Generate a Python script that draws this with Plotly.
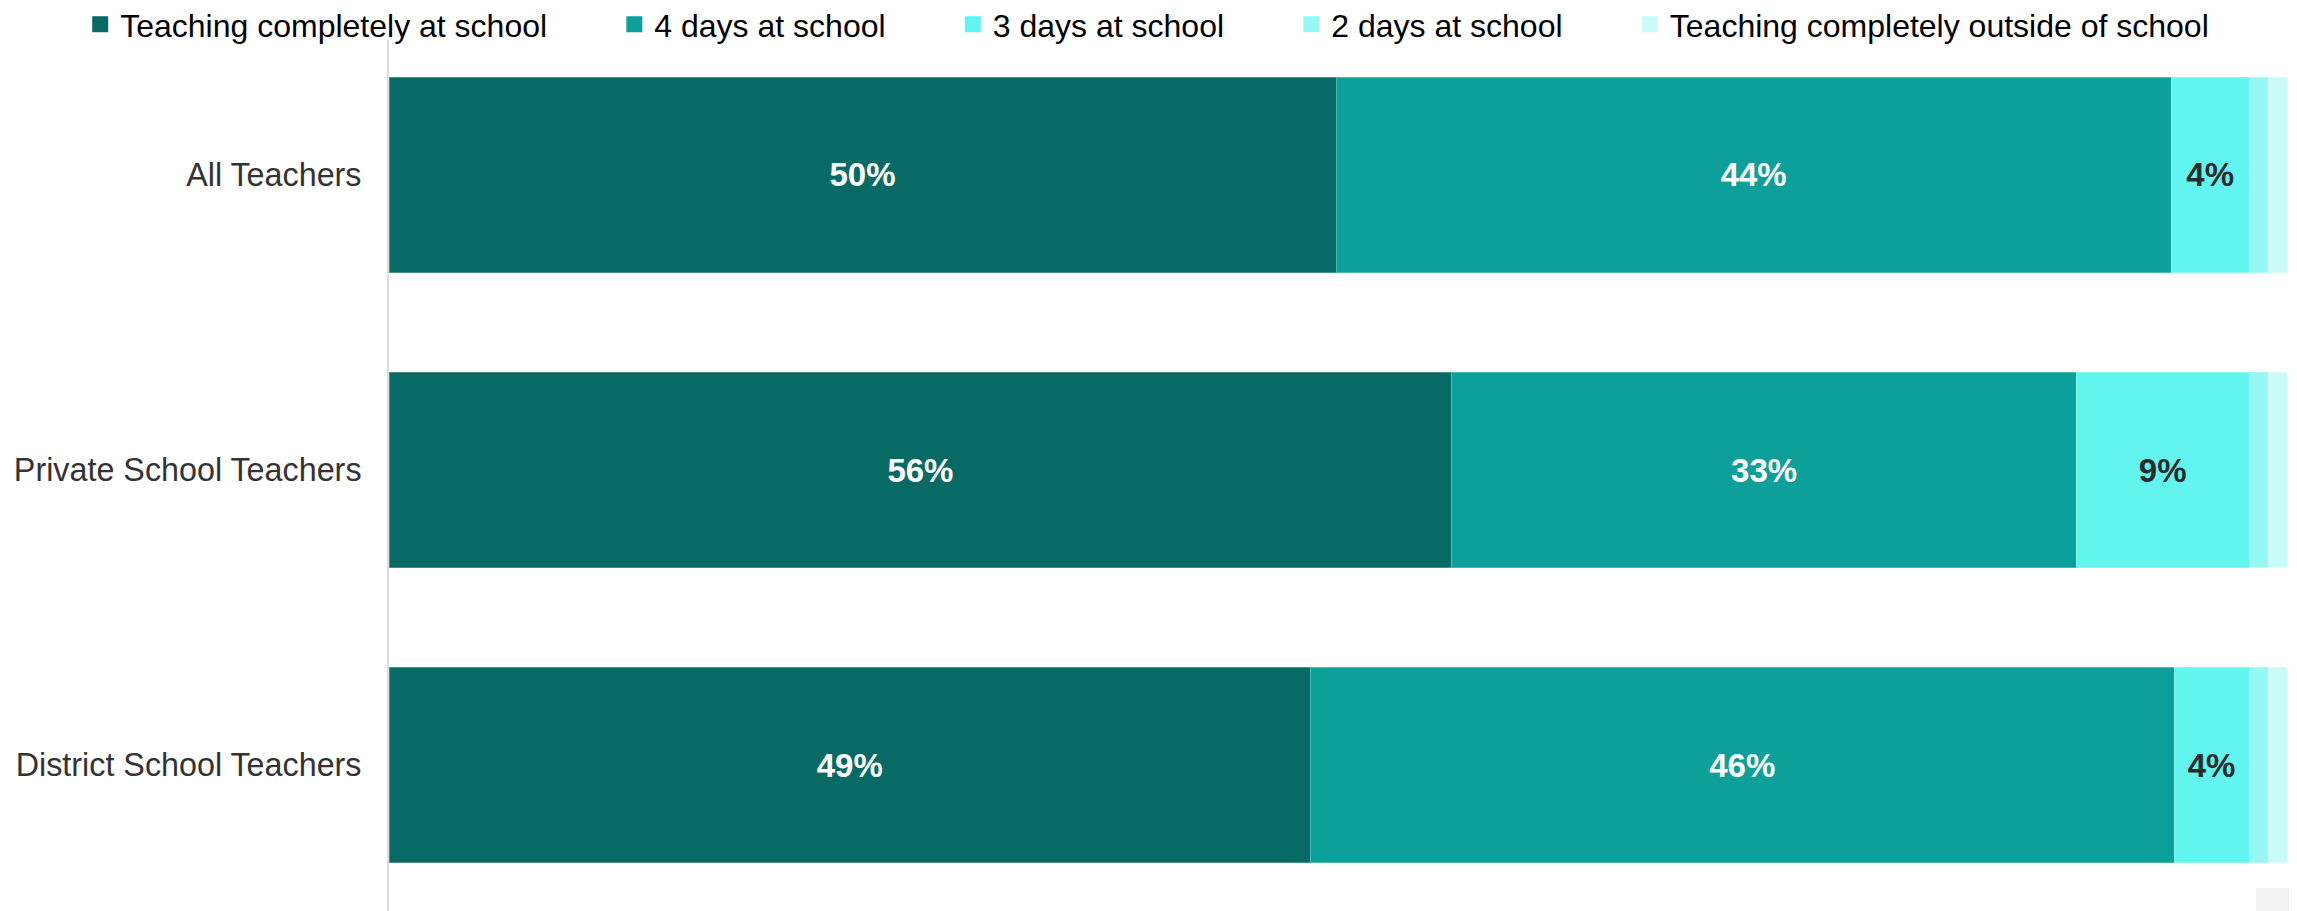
import plotly.graph_objects as go

categories = ["All Teachers", "Private School Teachers", "District School Teachers"]
series_names = [
    "Teaching completely at school",
    "4 days at school",
    "3 days at school",
    "2 days at school",
    "Teaching completely outside of school",
]
completely_at_school = [49.9, 56.0, 48.55]
four_days = [44.0, 32.9, 45.5]
three_days = [4.1, 9.1, 3.95]
two_days = [1.0, 1.0, 1.0]
completely_outside = [1.0, 1.0, 1.0]

labels_completely_at_school = ["50%", "56%", "49%"]
labels_four_days = ["44%", "33%", "46%"]
labels_three_days = ["4%", "9%", "4%"]

colors = ["#086A65", "#0D9F9A", "#62F4EE", "#96F8F3", "#C9FCF8"]
label_colors = ["#FFFFFF", "#FFFFFF", "#2B2B2B", "#2B2B2B", "#2B2B2B"]
legend_pad = [7, 7, 7, 7, 0]

values = [completely_at_school, four_days, three_days, two_days, completely_outside]
labels = [labels_completely_at_school, labels_four_days, labels_three_days, None, None]

FONT = "Liberation Sans, Arial, sans-serif"

fig = go.Figure()
for name, vals, lab, col, lcol in zip(series_names, values, labels, colors, label_colors):
    fig.add_trace(go.Bar(
        y=categories,
        x=vals,
        name=name,
        legendgroup=name,
        showlegend=False,
        orientation="h",
        width=0.664,
        marker=dict(color=col, line=dict(color="rgba(255,255,255,0.25)", width=1)),
        text=lab,
        textposition="inside" if lab else "none",
        insidetextanchor="middle",
        textangle=0,
        textfont=dict(family=FONT, size=33, color=lcol, weight="bold"),
        hoverinfo="skip",
    ))

# legend entries (square swatches), one per series
for name, col, pad in zip(series_names, colors, legend_pad):
    fig.add_trace(go.Scatter(
        x=[None], y=[None],
        mode="markers",
        name=name + "\u00a0" * pad,
        legendgroup=name,
        marker=dict(symbol="square", size=16, color=col, line=dict(width=0)),
        hoverinfo="skip",
    ))

fig.add_shape(type="rect", xref="paper", yref="paper",
              x0=0.9837, x1=1.01, y0=0.0091, y1=0.0353,
              fillcolor="#F2F2F2", line=dict(width=0), layer="above")

fig.update_layout(
    width=2297,
    height=911,
    barmode="stack",
    plot_bgcolor="white",
    paper_bgcolor="white",
    margin=dict(l=381, r=18, t=32, b=0, pad=0, autoexpand=False),
    font=dict(family=FONT, size=32, color="#333333"),
    legend=dict(
        orientation="h",
        xref="paper", yref="paper",
        x=-0.1627, xanchor="left",
        y=1.0489, yanchor="top",
        font=dict(family=FONT, size=32, color="#000000"),
        traceorder="normal",
        itemsizing="trace",
        bgcolor="rgba(0,0,0,0)",
    ),
    xaxis=dict(range=[0, 100], visible=False, showgrid=False, zeroline=False, fixedrange=True),
    yaxis=dict(
        type="category",
        categoryorder="array",
        categoryarray=categories,
        range=[2.522, -0.4576],
        showline=True,
        linecolor="#DEDEDE",
        linewidth=2,
        showgrid=False,
        zeroline=False,
        ticks="",
        ticklabelstandoff=19,
        tickfont=dict(family=FONT, size=32.3, color="#333333"),
        fixedrange=True,
    ),
    uniformtext=dict(mode=False),
)

fig.write_html("out.html", config={"displayModeBar": False})
